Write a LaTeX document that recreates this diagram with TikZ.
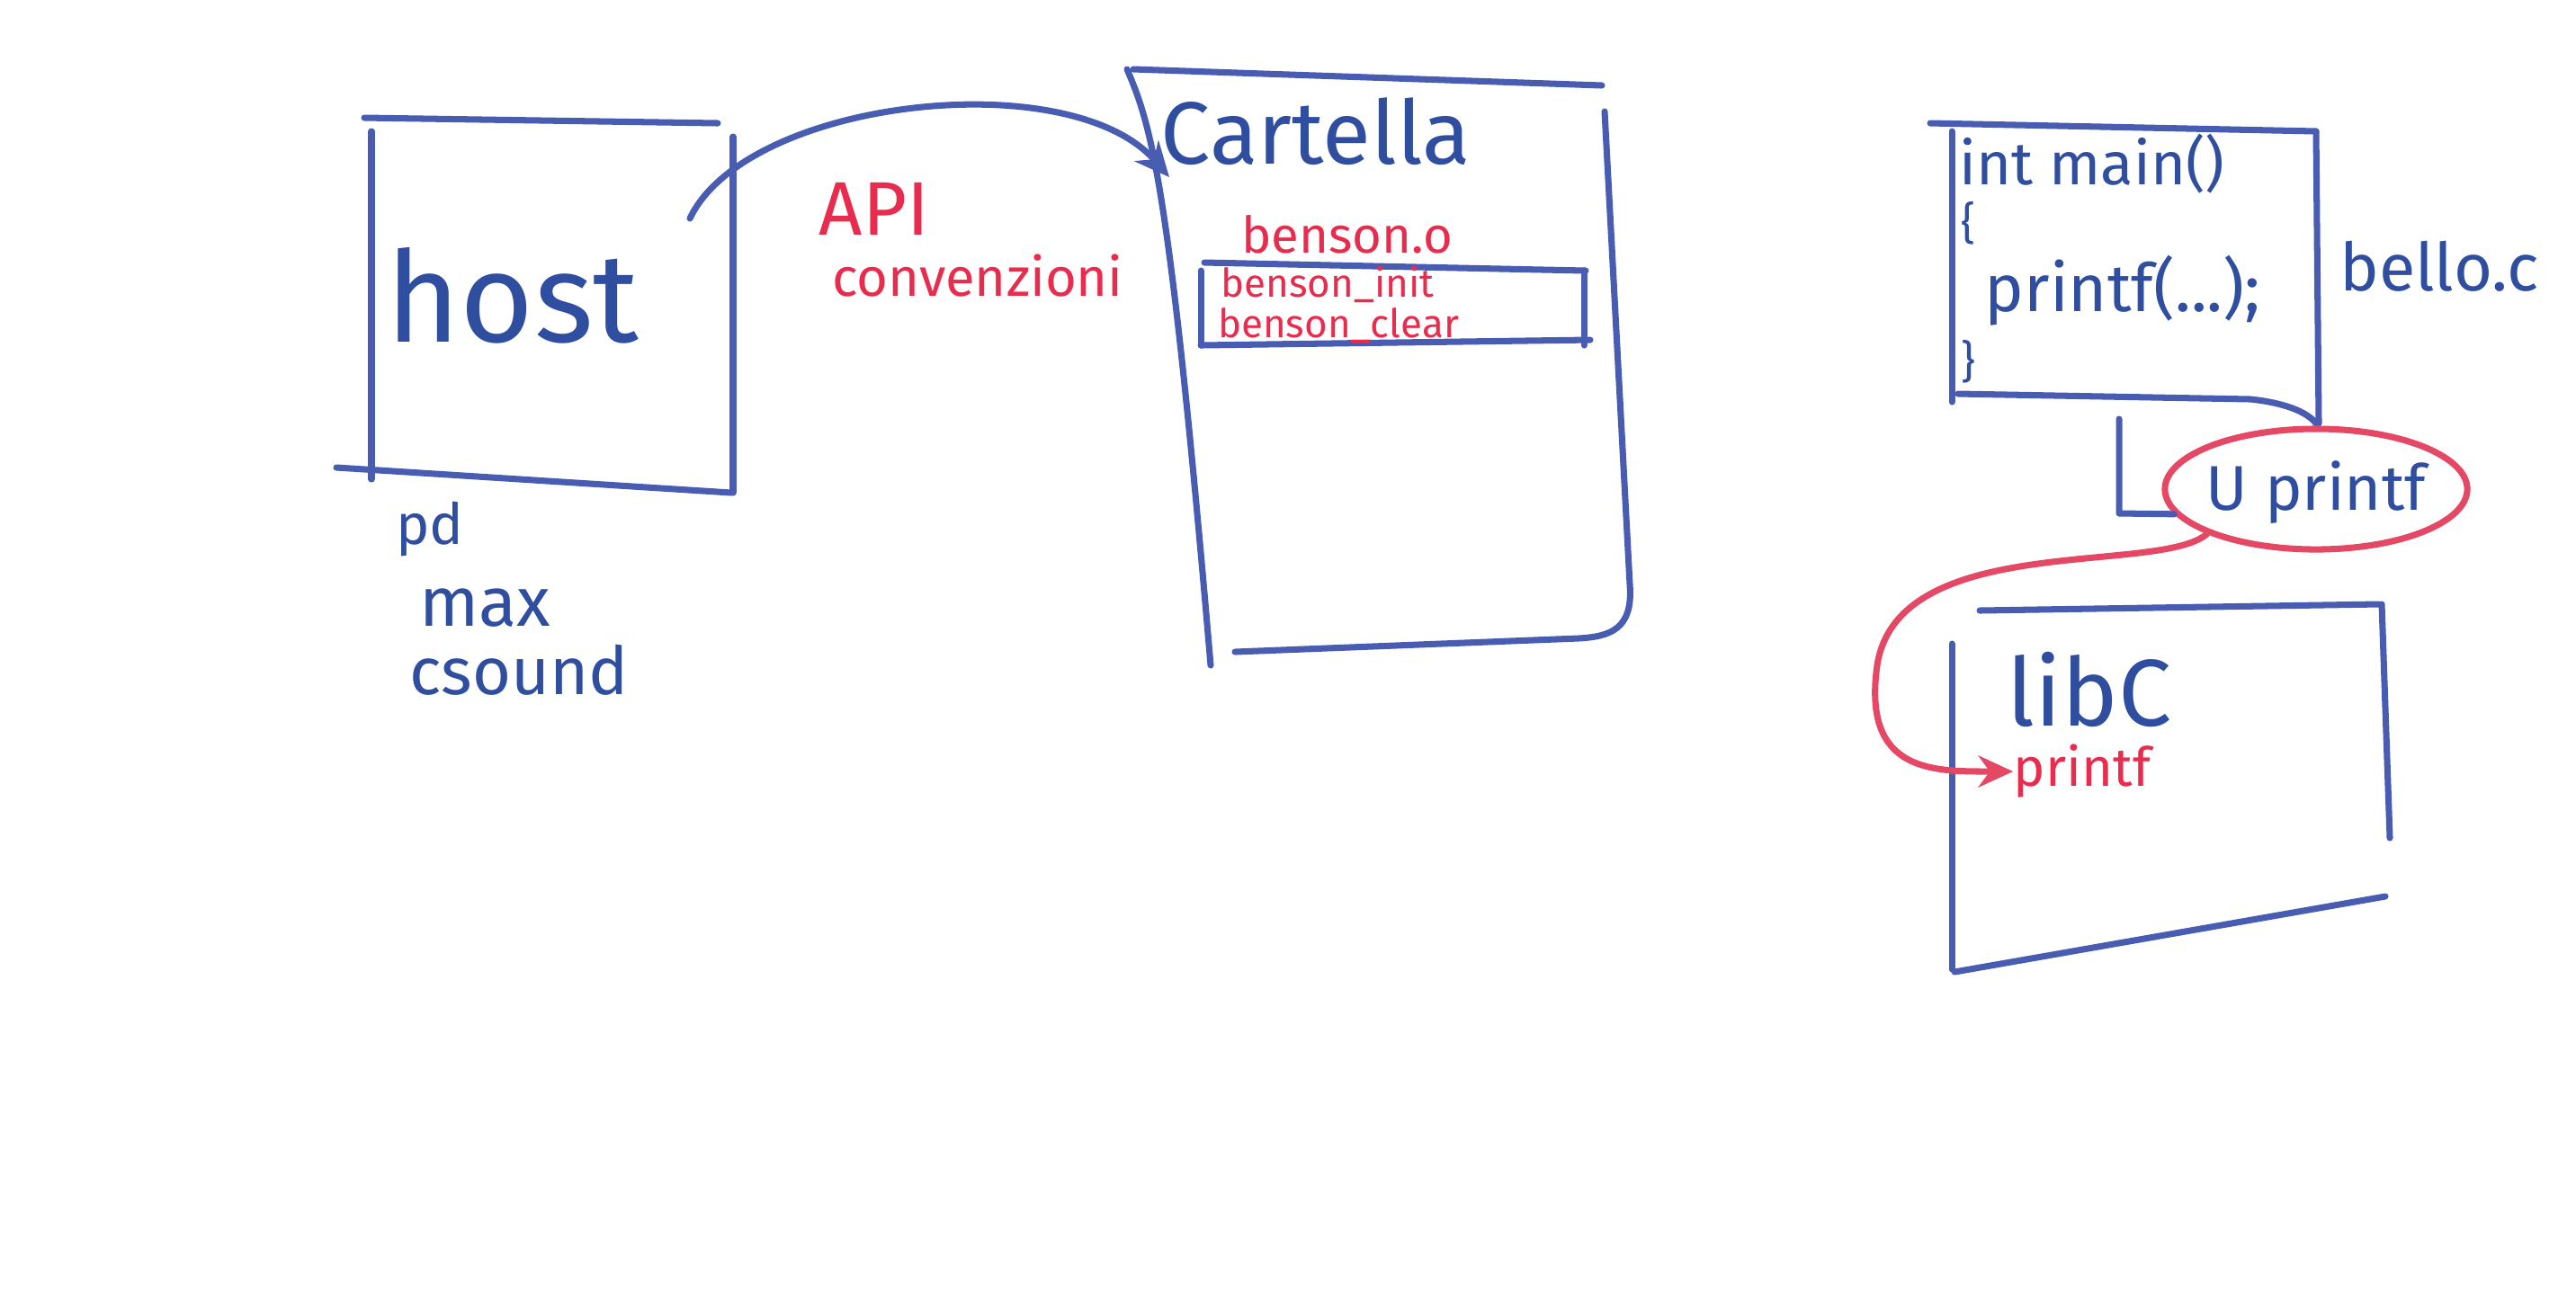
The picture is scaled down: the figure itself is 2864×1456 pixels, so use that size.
\documentclass[tikz,border=0pt]{standalone}
\usepackage{fontspec}
\setmainfont{Fira Sans}
\usetikzlibrary{arrows.meta,shapes.geometric}
\definecolor{inkblue}{RGB}{72,92,178}
\definecolor{txtblue}{RGB}{48,78,160}
\definecolor{inkred}{RGB}{232,44,78}
\definecolor{ellred}{RGB}{228,72,100}
\tikzset{
  pen/.style={draw=inkblue, line width=2pt, line cap=round, line join=round},
  redpen/.style={draw=ellred, line width=2pt, line cap=round},
  bluetxt/.style={text=txtblue, inner sep=0pt, anchor=center},
  redtxt/.style={text=inkred, inner sep=0pt, anchor=center},
}
\newcommand{\fs}[1]{\fontsize{#1}{#1}\selectfont}
\begin{document}
\begin{tikzpicture}[x=0.01cm, y=-0.01cm]
\useasboundingbox[fill=white] (0,0) rectangle (2864,1456);

% ---- host box ----
\draw[pen] (405,131) -- (798,137);
\draw[pen] (413,146) -- (413,533);
\draw[pen] (815,152) -- (815,548);
\draw[pen] (374,520) -- (813,548);
\node[bluetxt] (host) at (570,329) {\fs{40}host};

\node[bluetxt] (pd) at (478,588) {\fs{18}pd};
\node[bluetxt] (max) at (539,676) {\fs{22}max};
\node[bluetxt] (csound) at (577,745) {\fs{21}csound};

% ---- API ----
\node[redtxt] (api) at (972,232) {\fs{24}API};
\node[redtxt] (conv) at (1087,307) {\fs{17}convenzioni};

% ---- Cartella ----
\draw[pen] (1260,77) -- (1781,95);
\draw[pen] (1253,77) .. controls (1280,140) and (1300,200) .. (1346,740);
\draw[pen] (1784,124) -- (1812,650) .. controls (1816,700) and (1790,708) .. (1755,710) -- (1373,725);
\node[bluetxt] (cartella) at (1463,146) {\fs{28}Cartella};

\draw[pen] (1339,292) -- (1763,301);
\draw[pen] (1335,301) -- (1335,384);
\draw[pen] (1761,301) -- (1761,384);
\draw[pen] (1335,384) -- (1768,378);
\node[redtxt] (bo) at (1498,261) {\fs{16}benson.o};
\node[redtxt] (binit) at (1476,316) {\fs{12.5}benson\_init};
\node[redtxt] (bclear) at (1488,362) {\fs{12.5}benson\_clear};

% host -> Cartella
\coordinate (hs) at (767,243);
\coordinate (ce) at (1300,197);
\draw[pen, -{Stealth[length=11pt,width=10pt]}] (hs) .. controls (830,110) and (1190,70) .. (ce);

% ---- bello.c ----
\draw[pen] (2146,137) -- (2575,146);
\draw[pen] (2170,146) -- (2170,447);
\draw[pen] (2575,146) -- (2578,471);
\draw[pen] (2177,438) -- (2502,444) .. controls (2540,448) and (2565,458) .. (2575,471);
\node[bluetxt, anchor=west] (main) at (2178,182) {\fs{19}int main()};
\node[bluetxt, anchor=west] (lb) at (2180,248) {\fs{14}\{};
\node[bluetxt, anchor=west] (pf) at (2206,323) {\fs{21}printf(...);};
\node[bluetxt, anchor=west] (rb) at (2180,402) {\fs{14}\}};
\node[bluetxt] (bello) at (2712,296) {\fs{21}bello.c};

% L connector to U printf
\coordinate (lt) at (2356,466);
\coordinate (lc) at (2356,571);
\node[draw=ellred, line width=2pt, ellipse, minimum width=3.36cm, minimum height=1.34cm, inner sep=0pt] (ell) at (2575,544) {};
\node[bluetxt] (uprintf) at (2575,548) {\fs{20}U printf};
\draw[pen] (lt) -- (lc) -- (ell.190);

% ---- libC ----
\draw[pen] (2201,679) -- (2645,672);
\draw[pen] (2170,716) -- (2170,1078);
\draw[pen] (2648,672) -- (2657,932);
\draw[pen] (2173,1081) -- (2652,997);
\node[bluetxt] (libc) at (2323,767) {\fs{30}libC};
\node[redtxt] (pfr) at (2315,858) {\fs{17}printf};

% U printf -> libC printf
\draw[redpen, -{Stealth[length=11pt,width=10pt]}] (ell.south west) .. controls (2400,640) and (2110,590) .. (2087,740) .. controls (2070,860) and (2150,858) .. (pfr.west);
\end{tikzpicture}
\end{document}
